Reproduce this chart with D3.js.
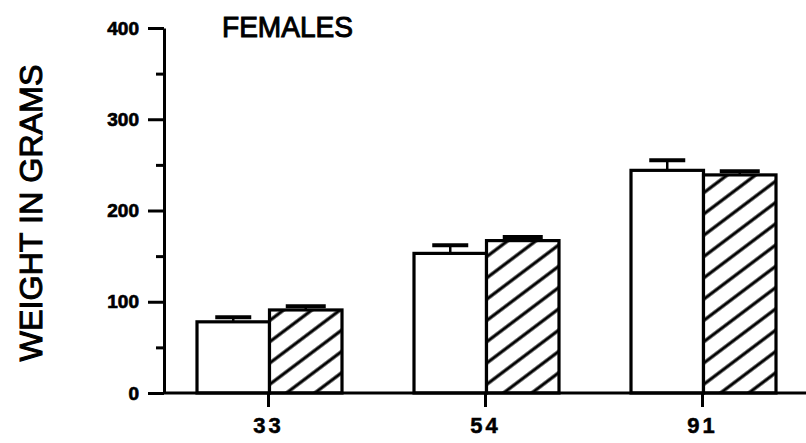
<!DOCTYPE html>
<html>
<head>
<meta charset="utf-8">
<script src="https://cdn.jsdelivr.net/npm/d3@7/dist/d3.min.js"></script>
<style>
  html, body { margin: 0; padding: 0; background: #fff; }
  svg { display: block; }
  text { font-family: "Liberation Sans", Arial, Helvetica, sans-serif; fill: #000; }
</style>
</head>
<body>
<svg id="chart" width="806" height="443"></svg>
<script>
// Body weight of females at three ages, two groups (open and hatched bars)
const ages = ["33", "54", "91"];
const groups = ["open", "hatched"];
const openMeans = [78, 153, 244];
const openUpper = [83, 162, 255];      // mean + error
const hatchedMeans = [91, 167, 239];
const hatchedUpper = [95, 171, 243];  // mean + error
const yTicks = [0, 100, 200, 300, 400];
const yMinorTicks = [50, 150, 250, 350];
const titleText = "FEMALES";
const yTitle = "WEIGHT IN GRAMS";

const rows = ages.map((a, i) => ({
  age: a,
  bars: [
    { group: "open", mean: openMeans[i], upper: openUpper[i] },
    { group: "hatched", mean: hatchedMeans[i], upper: hatchedUpper[i] }
  ]
}));

const svg = d3.select("#chart");
const axisX = 164, baseY = 393;

const y = d3.scaleLinear().domain([0, 400]).range([baseY, 28]);
const x = d3.scalePoint().domain(ages).range([268, 702]);
const xSub = d3.scaleBand().domain(groups).range([-71, 74]).padding(0);

// diagonal hatch fill
const defs = svg.append("defs");
const pat = defs.append("pattern")
  .attr("id", "hatch")
  .attr("patternUnits", "userSpaceOnUse")
  .attr("width", 17).attr("height", 17)
  .attr("patternTransform", "rotate(53)");
pat.append("rect").attr("width", 17).attr("height", 17).attr("fill", "#fff");
pat.append("line")
  .attr("x1", 2).attr("y1", 0).attr("x2", 2).attr("y2", 17)
  .attr("stroke", "#000").attr("stroke-width", 3.2);

const capWidth = { open: 36, hatched: 40 };

const g = svg.append("g").selectAll("g.age")
  .data(rows).join("g")
  .attr("class", "age")
  .attr("transform", d => `translate(${x(d.age)},0)`);

// error bars (upward only)
const err = g.selectAll("g.err").data(d => d.bars).join("g").attr("class", "err");
err.append("line")
  .attr("x1", d => xSub(d.group) + xSub.bandwidth() / 2)
  .attr("x2", d => xSub(d.group) + xSub.bandwidth() / 2)
  .attr("y1", d => y(d.mean)).attr("y2", d => y(d.upper))
  .attr("stroke", "#000").attr("stroke-width", 2.5);
err.append("line")
  .attr("x1", d => xSub(d.group) + xSub.bandwidth() / 2 - capWidth[d.group] / 2)
  .attr("x2", d => xSub(d.group) + xSub.bandwidth() / 2 + capWidth[d.group] / 2)
  .attr("y1", d => y(d.upper)).attr("y2", d => y(d.upper))
  .attr("stroke", "#000").attr("stroke-width", 4);

// bars
g.selectAll("rect.bar").data(d => d.bars).join("rect")
  .attr("class", "bar")
  .attr("x", d => xSub(d.group))
  .attr("width", xSub.bandwidth())
  .attr("y", d => y(d.mean))
  .attr("height", d => y(0) - y(d.mean))
  .attr("fill", d => d.group === "open" ? "#fff" : "url(#hatch)")
  .attr("stroke", "#000").attr("stroke-width", 3.2);

// y axis with major and minor ticks
const yAxis = svg.append("g")
  .attr("transform", `translate(${axisX},0)`)
  .call(d3.axisLeft(y).tickValues(yTicks).tickSize(16).tickPadding(9).tickSizeOuter(0));
yAxis.select(".domain").attr("stroke-width", 3);
yAxis.selectAll(".tick line").attr("stroke-width", 3);
yAxis.selectAll(".tick text")
  .attr("font-size", 19).attr("font-weight", "bold")
  .attr("stroke", "#000").attr("stroke-width", 0.7)
  .attr("font-family", "'Liberation Sans', Arial, sans-serif");
const yMinor = svg.append("g")
  .attr("transform", `translate(${axisX},0)`)
  .call(d3.axisLeft(y).tickValues(yMinorTicks).tickSize(8).tickFormat(""));
yMinor.select(".domain").remove();
yMinor.selectAll(".tick line").attr("stroke-width", 3);

// x axis baseline across the full width
svg.append("line")
  .attr("x1", axisX - 1).attr("x2", 806)
  .attr("y1", baseY).attr("y2", baseY)
  .attr("stroke", "#000").attr("stroke-width", 3);
const xAxis = svg.append("g")
  .attr("transform", `translate(0,${baseY})`)
  .call(d3.axisBottom(x).tickSize(14).tickPadding(10).tickSizeOuter(0));
xAxis.select(".domain").remove();
xAxis.selectAll(".tick line").attr("stroke-width", 3);
xAxis.selectAll(".tick text")
  .attr("font-size", 22).attr("font-weight", "bold")
  .attr("letter-spacing", 3)
  .attr("stroke", "#000").attr("stroke-width", 0.5)
  .attr("font-family", "'Liberation Sans', Arial, sans-serif");

// titles
svg.append("text")
  .attr("x", 222).attr("y", 37)
  .attr("font-size", 29)
  .attr("stroke", "#000").attr("stroke-width", 1)
  .attr("textLength", 131).attr("lengthAdjust", "spacingAndGlyphs")
  .text(titleText);
svg.append("text")
  .attr("transform", "translate(42,213) rotate(-90)")
  .attr("text-anchor", "middle")
  .attr("font-size", 31)
  .attr("stroke", "#000").attr("stroke-width", 1)
  .attr("textLength", 297).attr("lengthAdjust", "spacingAndGlyphs")
  .text(yTitle);
</script>
</body>
</html>
